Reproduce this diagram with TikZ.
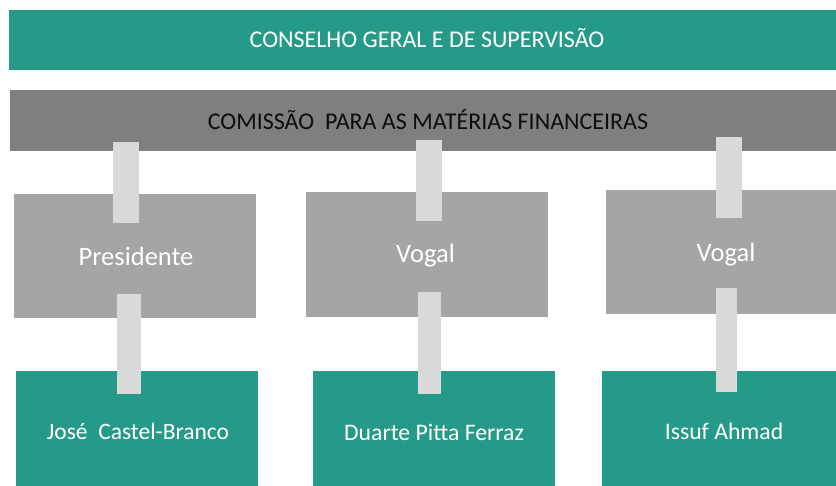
\documentclass[tikz,border=0pt]{standalone}
\usepackage{fontspec}
\setmainfont{Carlito}
\definecolor{teal1}{RGB}{38,154,137}
\definecolor{bar}{RGB}{127,127,127}
\definecolor{boxg}{RGB}{165,165,165}
\definecolor{conn}{RGB}{217,217,217}
\definecolor{dark}{RGB}{13,13,13}
\tikzset{
  tealbox/.style={fill=teal1, draw=none, inner sep=0pt},
  greybar/.style={fill=bar, draw=none, inner sep=0pt},
  rolebox/.style={fill=boxg, draw=none, inner sep=0pt},
  connbar/.style={fill=conn, draw=none},
  lbl/.style={anchor=base, inner sep=0pt, text=white},
}
\newcommand{\fs}[1]{\fontsize{#1}{#1}\selectfont}
\begin{document}
\begin{tikzpicture}[x=1pt,y=-1pt]
\useasboundingbox (0,0) rectangle (836,486);
% top bars
\node[tealbox, minimum width=827pt, minimum height=60pt] (cgs) at (422.5,40) {};
\node[greybar, minimum width=826pt, minimum height=61pt] (cmf) at (423,120.5) {};
% role boxes
\node[rolebox, minimum width=242pt, minimum height=124pt] (pres) at (135,256) {};
\node[rolebox, minimum width=242pt, minimum height=125pt] (vog1) at (427,254.5) {};
\node[rolebox, minimum width=230pt, minimum height=124pt] (vog2) at (721,252) {};
% name boxes
\node[tealbox, minimum width=242pt, minimum height=115pt] (jcb) at (137,428.5) {};
\node[tealbox, minimum width=242pt, minimum height=115pt] (dpf) at (434,428.5) {};
\node[tealbox, minimum width=234pt, minimum height=115pt] (isa) at (719,428.5) {};
% connectors
\fill[connbar] (113,142) rectangle (139,223);
\fill[connbar] (117,294) rectangle (141,394);
\fill[connbar] (416,140) rectangle (442,221);
\fill[connbar] (418,292) rectangle (441,394);
\fill[connbar] (716,137) rectangle (742,218);
\fill[connbar] (716,288) rectangle (737,392);
% texts
\node[lbl] (tcgs) at (427,48) {\fs{24}CONSELHO GERAL E DE SUPERVISÃO};
\node[lbl, text=dark] (tcmf) at (428,129.5) {\fs{24}COMISSÃO\ \ PARA AS MATÉRIAS FINANCEIRAS};
\node[lbl] (tpres) at (136,266) {\fs{26.5}Presidente};
\node[lbl] (tvog1) at (425.5,263) {\fs{26.5}Vogal};
\node[lbl] (tvog2) at (726,262) {\fs{26.5}Vogal};
\node[lbl] (tjcb) at (138,439) {\fs{23.5}José\ \ Castel-Branco};
\node[lbl] (tdpf) at (434,440) {\fs{23.7}Duarte Pitta Ferraz};
\node[lbl] (tisa) at (724,439) {\fs{23.7}Issuf Ahmad};
\end{tikzpicture}
\end{document}
